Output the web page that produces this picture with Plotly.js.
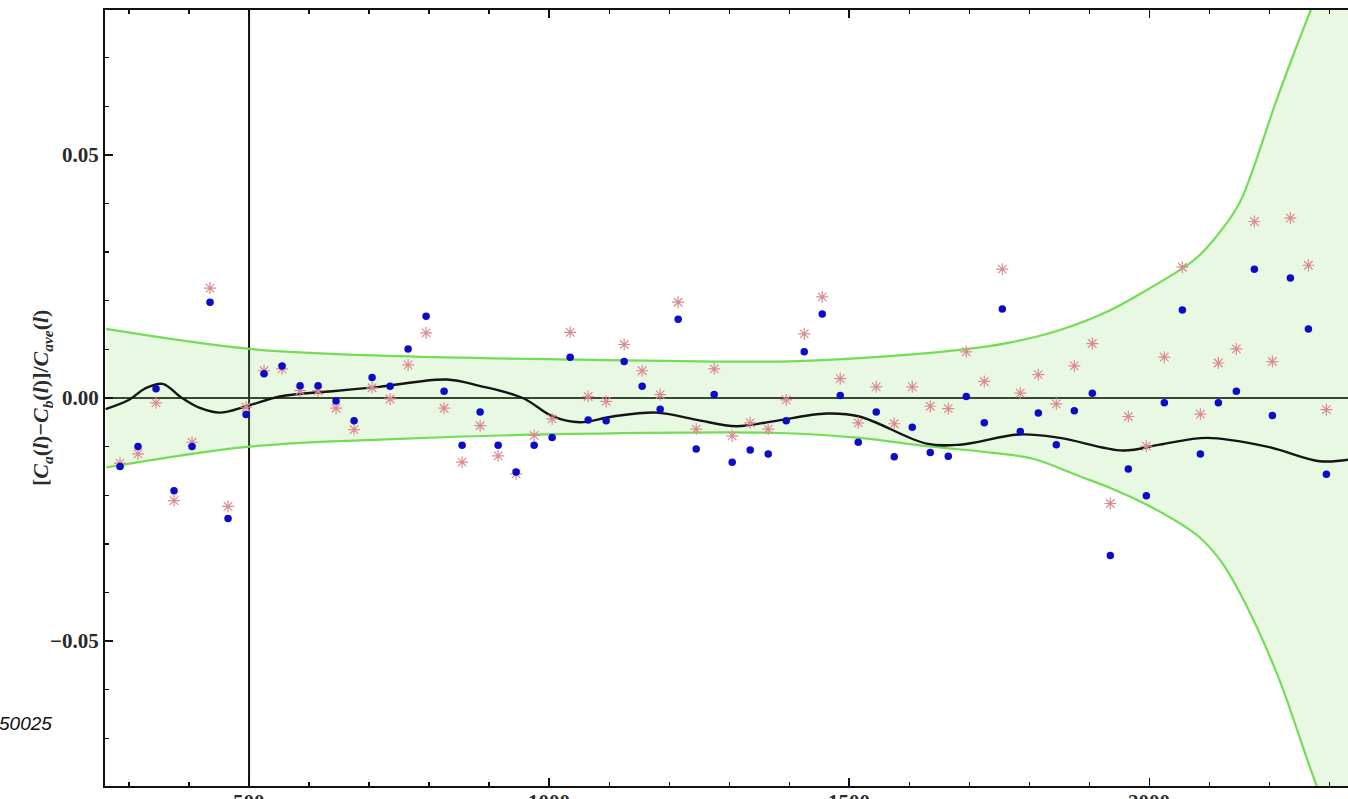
<!DOCTYPE html>
<html>
<head>
<meta charset="utf-8">
<script src="https://cdn.plot.ly/plotly-3.0.1.min.js"></script>
<style>html,body{margin:0;padding:0;background:#fff;}#chart{width:1348px;height:799px;}</style>
</head>
<body>
<div id="chart"></div>
<script>
// multipole bin centres
const ell = [285,315,345,375,405,435,465,495,525,555,585,615,645,675,705,735,765,795,825,855,885,915,945,975,1005,1035,1065,1095,1125,1155,1185,1215,1245,1275,1305,1335,1365,1395,1425,1455,1485,1515,1545,1575,1605,1635,1665,1695,1725,1755,1785,1815,1845,1875,1905,1935,1965,1995,2025,2055,2085,2115,2145,2175,2205,2235,2265,2295];
// blue dots
const blueVals = [-0.0141,-0.0100,0.0019,-0.0191,-0.0100,0.0197,-0.0248,-0.0034,0.0050,0.0066,0.0025,0.0025,-0.0006,-0.0047,0.0042,0.0024,0.0101,0.0168,0.0014,-0.0097,-0.0029,-0.0097,-0.0152,-0.0097,-0.0081,0.0084,-0.0045,-0.0047,0.0075,0.0024,-0.0023,0.0162,-0.0105,0.0007,-0.0132,-0.0107,-0.0115,-0.0047,0.0095,0.0173,0.0005,-0.0091,-0.0029,-0.0121,-0.0060,-0.0112,-0.0120,0.0003,-0.0051,0.0183,-0.0069,-0.0031,-0.0096,-0.0026,0.0010,-0.0324,-0.0146,-0.0201,-0.0010,0.0181,-0.0115,-0.0010,0.0014,0.0265,-0.0036,0.0247,0.0142,-0.0157];
// red asterisks
const redVals = [-0.0134,-0.0115,-0.0010,-0.0211,-0.0091,0.0226,-0.0223,-0.0019,0.0056,0.0060,0.0015,0.0015,-0.0021,-0.0065,0.0021,-0.0002,0.0068,0.0134,-0.0021,-0.0132,-0.0057,-0.0119,-0.0156,-0.0077,-0.0043,0.0135,0.0003,-0.0007,0.0110,0.0056,0.0007,0.0197,-0.0064,0.0060,-0.0078,-0.0051,-0.0064,-0.0004,0.0132,0.0208,0.0040,-0.0051,0.0023,-0.0053,0.0023,-0.0017,-0.0022,0.0095,0.0034,0.0265,0.0010,0.0048,-0.0012,0.0066,0.0112,-0.0217,-0.0038,-0.0099,0.0084,0.0269,-0.0033,0.0072,0.0101,0.0363,0.0075,0.0370,0.0273,-0.0024];
// smooth mean curve
const meanL = [261,301,326,356,387,417,451,498,551,639,717,829,884,956,1006,1051,1106,1179,1246,1312,1373,1462,1517,1629,1684,1784,1851,1956,2017,2096,2196,2284,2331];
const meanV = [-0.0023,-0.0003,0.0019,0.0029,0.0001,-0.0020,-0.0030,-0.0016,0.0003,0.0014,0.0023,0.0038,0.0025,0.0000,-0.0038,-0.0050,-0.0038,-0.0030,-0.0045,-0.0058,-0.0048,-0.0032,-0.0038,-0.0094,-0.0096,-0.0075,-0.0082,-0.0108,-0.0096,-0.0082,-0.0100,-0.0130,-0.0127];
// error band
const upperL = [262,501,751,1051,1384,1517,1684,1767,1851,1934,2001,2057,2084,2129,2153,2212,2243,2279,2331];
const upperV = [0.0142,0.0101,0.0086,0.0079,0.0075,0.0082,0.0099,0.0114,0.0140,0.0180,0.0226,0.0268,0.0294,0.0360,0.0408,0.0613,0.0716,0.0830,0.0990];
const lowerL = [262,501,751,995,1384,1517,1629,1740,1806,1884,1939,1995,2051,2084,2117,2151,2212,2279,2331];
const lowerV = [-0.0143,-0.0100,-0.0084,-0.0075,-0.0072,-0.0082,-0.0099,-0.0113,-0.0125,-0.0161,-0.0187,-0.0219,-0.0258,-0.0287,-0.0332,-0.0401,-0.0565,-0.0798,-0.0950];
const xTickVals = [500,1000,1500,2000];
const yTickVals = [-0.05,0,0.05];
const yTickText = ['\u22120.05','0.00','0.05'];
const yTitle = '<b>[<i>C<sub>a</sub></i>(<i>l</i>)\u2212<i>C<sub>b</sub></i>(<i>l</i>)]/<i>C<sub>ave</sub></i>(<i>l</i>)</b>';

const green = 'rgb(115,222,85)';
const traces = [
  {x: lowerL, y: lowerV, mode: 'lines', line: {color: green, width: 2.2, shape: 'spline', smoothing: 1}, hoverinfo: 'skip'},
  {x: upperL, y: upperV, mode: 'lines', fill: 'tonexty', fillcolor: 'rgba(140,222,115,0.2)', line: {color: green, width: 2.2, shape: 'spline', smoothing: 1}, hoverinfo: 'skip'},
  {x: meanL, y: meanV, mode: 'lines', line: {color: '#151515', width: 2.4, shape: 'spline', smoothing: 1}},
  {x: ell, y: redVals, mode: 'markers', marker: {symbol: 'asterisk-open', size: 10, color: '#dc8a90', line: {color: '#dc8a90', width: 1.2}}},
  {x: ell, y: blueVals, mode: 'markers', marker: {symbol: 'circle', size: 7.5, color: '#0c0cc8'}}
];

const tickFont = {family: 'Liberation Serif, Times New Roman, serif', size: 21, color: '#2a2a2a', weight: 'bold'};
const xLabelAnn = xTickVals.map(v => ({
  xref: 'x', yref: 'paper', x: v, y: 0, xanchor: 'center', yanchor: 'top', yshift: -2,
  text: '<b>' + v + '</b>', showarrow: false, font: tickFont
}));
const layout = {
  width: 1348, height: 799,
  margin: {l: 105, r: 0, t: 10, b: 13},
  paper_bgcolor: '#fff', plot_bgcolor: '#fff',
  showlegend: false,
  xaxis: {
    range: [260, 2331], showgrid: false, zeroline: false,
    showline: true, linecolor: '#111', linewidth: 2, mirror: 'ticks',
    ticks: 'inside', ticklen: 8, tickwidth: 1.5, tickcolor: '#111',
    tickvals: xTickVals, showticklabels: false,
    minor: {dtick: 100, tick0: 0, ticks: 'inside', ticklen: 4, tickwidth: 1.3, tickcolor: '#111'}
  },
  yaxis: {
    range: [-0.0798, 0.0798], showgrid: false, zeroline: false,
    showline: true, linecolor: '#111', linewidth: 2,
    ticks: 'inside', ticklen: 8, tickwidth: 1.5, tickcolor: '#111',
    tickvals: yTickVals, ticktext: yTickText, tickfont: tickFont,
    minor: {dtick: 0.01, tick0: 0, ticks: 'inside', ticklen: 4, tickwidth: 1.3, tickcolor: '#111'}
  },
  shapes: [
    {type: 'line', xref: 'paper', yref: 'y', x0: 0, x1: 1, y0: 0, y1: 0, line: {color: '#222', width: 1.8}, layer: 'below'},
    {type: 'line', xref: 'x', yref: 'paper', x0: 500, x1: 500, y0: 0, y1: 1, line: {color: '#111', width: 2}, layer: 'below'}
  ],
  annotations: [
    {xref: 'paper', yref: 'paper', x: -0.0635, y: 0.5, text: yTitle, textangle: -90, showarrow: false,
     font: {family: 'Liberation Serif, Times New Roman, serif', size: 22, color: '#2a2a2a'}},
    {xref: 'paper', yref: 'paper', x: -0.0869, y: 0.081, xanchor: 'left', yanchor: 'middle', text: '<i>50025</i>', showarrow: false,
     font: {family: 'Liberation Sans, Arial, sans-serif', size: 19, color: '#111'}}
  ].concat(xLabelAnn)
};
Plotly.newPlot('chart', traces, layout, {displayModeBar: false, staticPlot: true});
</script>
</body>
</html>
